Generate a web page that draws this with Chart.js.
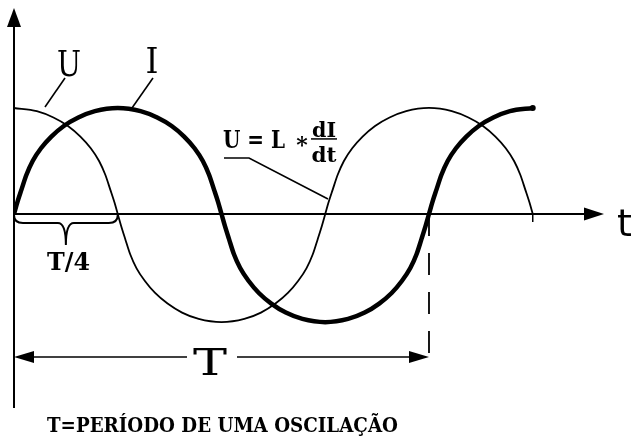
<!DOCTYPE html>
<html>
<head>
<meta charset="utf-8">
<script src="https://cdn.jsdelivr.net/npm/chart.js@4.4.1/dist/chart.umd.min.js"></script>
<style>
  html, body { margin: 0; padding: 0; background: #fff; }
  #c { display: block; }
</style>
</head>
<body>
<canvas id="c" width="632" height="437"></canvas>
<script>
// Sample times (fractions of one period T) and values.
// Current I (thick curve)
const phaseI = [
  0, 0.008, 0.018, 0.03, 0.045, 0.065, 0.09, 0.12, 0.155, 0.195, 0.25,
  0.305, 0.345, 0.38, 0.41, 0.435, 0.455, 0.47, 0.482, 0.492, 0.5,
  0.508, 0.518, 0.53, 0.545, 0.565, 0.59, 0.62, 0.655, 0.695, 0.75,
  0.805, 0.845, 0.88, 0.91, 0.935, 0.955, 0.97, 0.982, 0.992, 1.0,
  1.008, 1.018, 1.03, 1.045, 1.065, 1.09, 1.12, 1.155, 1.195, 1.25
];
const currentI = [
  0, 0.11, 0.23, 0.37, 0.50, 0.62, 0.73, 0.83, 0.91, 0.97, 1.0,
  0.97, 0.91, 0.83, 0.73, 0.62, 0.50, 0.37, 0.23, 0.11, 0,
  -0.11, -0.235, -0.38, -0.51, -0.63, -0.745, -0.845, -0.93, -0.99, -1.02,
  -0.99, -0.93, -0.845, -0.745, -0.63, -0.51, -0.38, -0.235, -0.11, 0,
  0.11, 0.23, 0.37, 0.50, 0.62, 0.73, 0.83, 0.91, 0.97, 1.0
];
// Voltage U (thin curve)
const phaseU = [
  0, 0.055, 0.095, 0.13, 0.16, 0.185, 0.205, 0.22, 0.232, 0.242, 0.25,
  0.258, 0.268, 0.28, 0.295, 0.315, 0.34, 0.37, 0.405, 0.445, 0.5,
  0.555, 0.595, 0.63, 0.66, 0.685, 0.705, 0.72, 0.732, 0.742, 0.75,
  0.758, 0.768, 0.78, 0.795, 0.815, 0.84, 0.87, 0.905, 0.945, 1.0,
  1.055, 1.095, 1.13, 1.16, 1.185, 1.205, 1.22, 1.232, 1.242, 1.25
];
const voltageU = [
  1.0, 0.97, 0.91, 0.83, 0.73, 0.62, 0.50, 0.37, 0.23, 0.11, 0,
  -0.11, -0.235, -0.38, -0.51, -0.63, -0.745, -0.845, -0.93, -0.99, -1.02,
  -0.99, -0.93, -0.845, -0.745, -0.63, -0.51, -0.38, -0.235, -0.11, 0,
  0.11, 0.23, 0.37, 0.50, 0.62, 0.73, 0.83, 0.91, 0.97, 1.0,
  0.97, 0.91, 0.83, 0.73, 0.62, 0.50, 0.37, 0.23, 0.11, 0
];
// Labels
const curveLabels = ["U", "I"];
const axisLabel = "t";
const periodLabel = "T";
const quarterLabel = "T/4";
const formulaLabel = ["U = L", "*", "dI", "dt"];
const captionLabel = "T=PERÍODO DE UMA OSCILAÇÃO";

const toPts = (xsArr, ysArr) => xsArr.map((x, i) => ({ x: x, y: ysArr[i] }));

const SERIF = '"DejaVu Serif", "Liberation Serif", serif';

const drawingPlugin = {
  id: 'drawing',
  beforeDraw(chart) {
    const ctx = chart.ctx;
    ctx.save();
    ctx.fillStyle = '#fff';
    ctx.fillRect(0, 0, chart.width, chart.height);
    ctx.restore();
  },
  afterDatasetsDraw(chart) {
    const ctx = chart.ctx;
    const xs = chart.scales.x, ys = chart.scales.y;
    const P = (x, y) => [xs.getPixelForValue(x), ys.getPixelForValue(y)];
    ctx.save();
    ctx.strokeStyle = '#000';
    ctx.fillStyle = '#000';
    ctx.lineCap = 'butt';

    const line = (pts, w, dash) => {
      ctx.beginPath();
      ctx.lineWidth = w;
      ctx.setLineDash(dash || []);
      pts.forEach((p, i) => { const q = P(p[0], p[1]); if (i) ctx.lineTo(q[0], q[1]); else ctx.moveTo(q[0], q[1]); });
      ctx.stroke();
      ctx.setLineDash([]);
    };
    const arrow = (tip, dir, len, half) => {
      const [tx, ty] = P(tip[0], tip[1]);
      ctx.beginPath();
      if (dir === 'up') { ctx.moveTo(tx, ty); ctx.lineTo(tx - half, ty + len); ctx.lineTo(tx + half, ty + len); }
      if (dir === 'right') { ctx.moveTo(tx, ty); ctx.lineTo(tx - len, ty - half); ctx.lineTo(tx - len, ty + half); }
      if (dir === 'left') { ctx.moveTo(tx, ty); ctx.lineTo(tx + len, ty - half); ctx.lineTo(tx + len, ty + half); }
      ctx.closePath();
      ctx.fill();
    };
    const text = (str, x, y, font, align, fitW) => {
      const [px, py] = P(x, y);
      ctx.font = font;
      ctx.textBaseline = 'alphabetic';
      const w = ctx.measureText(str).width;
      const sx = fitW ? fitW / w : 1;
      ctx.save();
      ctx.translate(px, py);
      ctx.scale(sx, 1);
      let off = 0;
      if (align === 'center') off = -w / 2;
      if (align === 'right') off = -w;
      ctx.textAlign = 'left';
      ctx.fillText(str, off, 0);
      ctx.restore();
    };

    const xmax = xs.max, ymin = ys.min, ymax = ys.max;
    // Axes
    line([[0, ymin], [0, ymax - 0.12]], 2);
    arrow([0, ymax], 'up', 19, 7);
    line([[0, 0], [xmax - 0.03, 0]], 2);
    arrow([xmax, 0], 'right', 20, 6.5);
    // small tick at end of U
    {
      const [px, py] = P(1.25, 0);
      ctx.beginPath(); ctx.lineWidth = 1.5; ctx.moveTo(px, py); ctx.lineTo(px, py + 8); ctx.stroke();
    }
    // Period dimension
    line([[1, 0], [1, -1.349]], 1.8, [22, 17]);
    line([[0.03, -1.349], [0.4169, -1.349]], 1.6);
    line([[0.5373, -1.349], [0.97, -1.349]], 1.6);
    arrow([0, -1.349], 'left', 20, 6);
    arrow([1, -1.349], 'right', 20, 6);
    text(periodLabel, 0.4723, -1.519, '38px ' + SERIF, 'center', 34);

    // Brace for T/4
    {
      const [L, y0] = P(0, 0);
      const [R] = P(0.25, 0);
      const M = (L + R) / 2;
      ctx.beginPath();
      ctx.lineWidth = 2;
      ctx.moveTo(L, y0 + 1);
      ctx.quadraticCurveTo(L, y0 + 9, L + 9, y0 + 9);
      ctx.lineTo(M - 8, y0 + 9);
      ctx.quadraticCurveTo(M, y0 + 9, M, y0 + 31);
      ctx.moveTo(R, y0 + 1);
      ctx.quadraticCurveTo(R, y0 + 9, R - 9, y0 + 9);
      ctx.lineTo(M + 8, y0 + 9);
      ctx.quadraticCurveTo(M, y0 + 9, M, y0 + 31);
      ctx.stroke();
    }
    text(quarterLabel, 0.1313, -0.528, 'bold 25px ' + SERIF, 'center', 43);

    // Curve labels with leaders
    text(curveLabels[0], 0.1325, 1.302, '36px ' + SERIF, 'center', 24);
    line([[0.1229, 1.283], [0.0747, 1.0094]], 1.6);
    text(curveLabels[1], 0.3325, 1.33, '36px ' + SERIF, 'center', 13);
    line([[0.3349, 1.283], [0.2843, 1.0]], 1.6);

    // Formula U = L * dI/dt
    text(formulaLabel[0], 0.5036, 0.6226, 'bold 24px ' + SERIF, 'left', 62);
    text(formulaLabel[1], 0.694, 0.585, 'bold 22px ' + SERIF, 'center');
    text(formulaLabel[2], 0.747, 0.7264, 'bold 20px ' + SERIF, 'center', 24);
    line([[0.7157, 0.708], [0.7783, 0.708]], 1.5);
    text(formulaLabel[3], 0.747, 0.4906, 'bold 20px ' + SERIF, 'center', 25);
    line([[0.5060, 0.5283], [0.5663, 0.5283], [0.7566, 0.1415]], 1.6);

    // Axis label t
    text(axisLabel, 1.453, -0.2075, '38px "DejaVu Sans", sans-serif', 'left');

    // Caption
    text(captionLabel, 0.0795, -2.061, 'bold 21px ' + SERIF, 'left', 351);

    ctx.restore();
  }
};

new Chart(document.getElementById('c'), {
  type: 'line',
  data: {
    datasets: [
      {
        label: 'U',
        data: toPts(phaseU, voltageU),
        borderColor: '#000',
        borderWidth: 1.8,
        pointRadius: 0,
        cubicInterpolationMode: 'monotone',
        fill: false
      },
      {
        label: 'I',
        data: toPts(phaseI, currentI),
        borderColor: '#000',
        backgroundColor: '#000',
        borderWidth: 4.5,
        pointRadius: (c) => (c.dataIndex === phaseI.length - 1 ? 3 : 0),
        pointBorderWidth: 0,
        cubicInterpolationMode: 'monotone',
        fill: false
      }
    ]
  },
  options: {
    responsive: false,
    animation: false,
    layout: { padding: { left: 14, top: 8, right: 28, bottom: 29 } },
    plugins: { legend: { display: false }, tooltip: { enabled: false } },
    scales: {
      x: { type: 'linear', min: 0, max: 1.4217, display: false },
      y: { type: 'linear', min: -1.83, max: 1.943, display: false }
    }
  },
  plugins: [drawingPlugin]
});
</script>
</body>
</html>
